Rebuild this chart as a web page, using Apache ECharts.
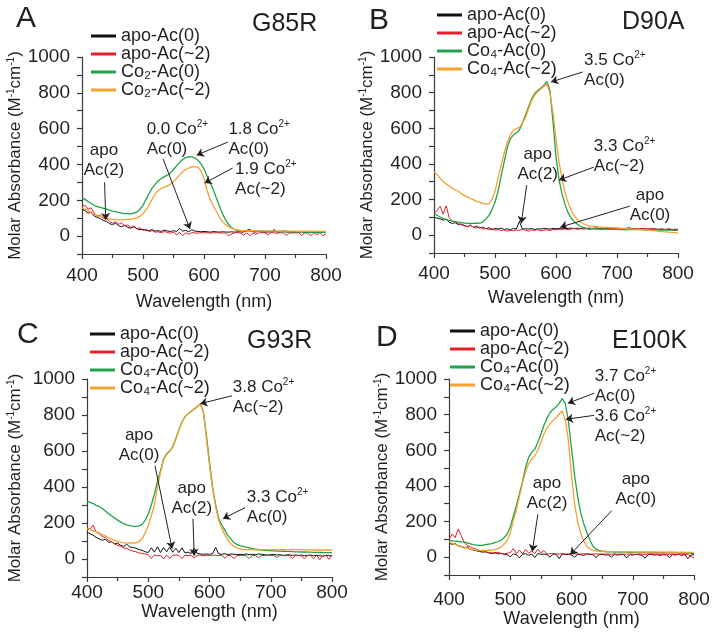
<!DOCTYPE html>
<html>
<head>
<meta charset="utf-8">
<title>Co2+ binding spectra</title>
<script src="https://cdn.jsdelivr.net/npm/echarts@6/dist/echarts.min.js"></script>
<style>
html, body { margin: 0; padding: 0; background: #fff; }
#chart { width: 713px; height: 636px; }
</style>
</head>
<body>
<div id="chart"></div>
<script>
// wavelength axis (nm), 5 nm steps
const wavelength = [
  400,405,410,415,420,425,430,435,440,445,
  450,455,460,465,470,475,480,485,490,495,
  500,505,510,515,520,525,530,535,540,545,
  550,555,560,565,570,575,580,585,590,595,
  600,605,610,615,620,625,630,635,640,645,
  650,655,660,665,670,675,680,685,690,695,
  700,705,710,715,720,725,730,735,740,745,
  750,755,760,765,770,775,780,785,790,795,
  800
];

// ---- panel A, G85R ----
const apo0_A = [
  150,142,128,135,112,104,98,86,82,70,
  64,72,58,52,60,48,44,52,40,36,
  38,32,30,36,28,30,26,34,28,26,
  30,26,42,28,32,24,36,28,26,24,
  26,24,22,25,24,22,24,23,22,24,
  22,24,23,22,32,38,25,22,28,24,
  22,23,24,36,22,23,30,22,24,22,
  23,22,24,21,22,23,22,21,22,20,
  21
];
const apo2_A = [
  165,172,150,158,128,110,118,96,100,82,
  72,80,66,74,58,62,48,56,42,46,
  32,38,26,30,22,24,18,26,20,16,
  22,8,20,2,18,10,20,18,16,20,
  18,19,17,18,19,18,17,18,2,12,
  18,20,16,6,18,2,17,10,18,20,
  18,8,20,18,16,19,18,5,17,18,
  18,19,4,17,18,2,18,8,20,2,
  12
];
const co0_A = [
  215,205,193,182,172,165,160,155,150,145,
  140,136,132,128,126,125,124,128,135,150,
  172,205,238,268,290,308,322,332,340,352,
  372,392,412,428,438,443,442,436,424,404,
  375,335,300,262,215,170,128,92,66,48,
  38,32,30,29,28,28,27,27,26,27,
  26,26,25,26,25,25,24,25,24,24,
  23,24,23,23,22,23,22,22,21,22,
  21
];
const co2_A = [
  158,150,140,130,122,115,110,104,100,96,
  93,92,91,91,92,93,94,97,102,110,
  125,145,175,205,235,255,266,273,280,290,
  303,322,342,360,372,380,386,387,385,365,
  320,255,205,172,140,108,82,64,52,44,
  38,34,32,31,30,30,30,29,30,29,
  29,29,30,29,28,29,28,29,28,28,
  28,27,28,27,27,28,27,26,27,26,
  26
];

// ---- panel B, D90A ----
const apo0_B = [
  100,96,92,84,90,72,66,70,58,62,
  54,48,56,44,50,40,46,36,42,30,
  38,34,40,32,36,30,38,34,78,34,
  36,34,38,32,36,34,38,36,34,38,
  36,38,40,36,38,40,37,39,38,40,
  38,40,36,42,38,36,40,37,42,38,
  40,36,38,35,42,36,38,34,37,35,
  34,36,33,35,30,34,32,30,33,31,
  30
];
const apo2_B = [
  120,140,162,118,165,98,80,72,66,58,
  52,48,56,44,40,46,34,38,30,36,
  28,32,26,30,22,28,24,30,26,34,
  28,22,30,26,32,24,28,30,26,32,
  30,34,32,36,30,34,38,32,36,34,
  36,32,38,34,36,32,38,36,40,34,
  36,38,32,40,36,34,38,36,32,38,
  36,32,40,30,36,34,32,38,30,34,
  32
];
const co0_B = [
  122,112,102,94,88,83,79,76,73,70,
  68,66,66,66,67,68,75,90,110,142,
  185,245,330,410,490,540,562,575,590,628,
  675,721,765,795,812,826,840,862,815,640,
  440,310,230,170,125,95,75,62,50,42,
  38,36,35,35,34,34,34,33,33,33,
  33,32,33,32,32,31,32,31,31,30,
  30,30,29,30,29,28,29,28,28,27,
  27
];
const co2_B = [
  356,340,320,300,288,276,264,255,245,233,
  222,214,206,198,190,184,178,176,175,200,
  245,320,390,460,520,560,590,598,605,630,
  660,710,755,785,805,820,835,848,800,690,
  540,410,315,235,180,140,108,88,74,64,
  56,52,50,48,46,45,44,43,42,41,
  40,39,38,37,36,34,33,32,31,30,
  29,27,26,24,22,20,19,17,16,14,
  12
];

// ---- panel C, G93R ----
const apo0_C = [
  150,140,132,120,112,104,110,92,96,84,
  88,76,70,82,66,64,60,52,48,40,
  36,62,38,68,36,64,40,66,38,60,
  36,62,34,38,30,60,32,28,26,28,
  26,30,64,28,26,30,24,28,26,24,
  26,24,28,24,26,24,28,26,24,22,
  24,26,22,24,20,22,24,20,22,20,
  22,18,20,22,18,20,18,16,20,18,
  18
];
const apo2_C = [
  172,165,188,150,140,126,118,104,96,84,
  76,70,62,58,50,44,40,34,30,28,
  24,2,22,18,20,0,22,4,20,22,
  20,2,22,18,20,6,20,22,18,20,
  20,21,20,19,20,4,20,18,2,20,
  19,20,18,2,20,19,6,20,18,20,
  19,20,8,20,19,18,20,2,19,20,
  18,0,20,19,2,20,-4,18,20,-2,
  20
];
const co0_C = [
  320,315,308,298,292,280,266,252,240,228,
  216,205,196,190,186,183,181,184,192,215,
  250,300,360,430,490,555,585,600,625,670,
  718,760,790,808,820,833,845,862,820,685,
  540,400,300,225,190,160,130,110,90,80,
  74,70,66,62,58,55,52,50,48,47,
  46,45,44,44,43,42,42,41,40,40,
  39,39,38,38,37,37,36,36,35,35,
  35
];
const co2_C = [
  168,162,156,150,144,136,128,118,110,104,
  98,94,90,88,88,89,90,96,112,145,
  185,240,300,400,480,550,580,598,620,665,
  715,758,790,808,822,835,848,862,815,670,
  520,390,290,215,170,135,107,85,70,62,
  56,53,52,52,52,51,51,51,52,52,
  52,53,52,52,53,52,52,53,52,52,
  52,51,52,51,50,51,50,50,51,50,
  50
];

// ---- panel D, E100K ----
const apo0_D = [
  80,72,76,64,60,52,58,44,40,36,
  32,28,30,24,20,26,18,22,16,14,
  2,18,14,-4,16,20,10,18,-2,20,
  16,18,14,0,18,16,-8,18,14,16,
  12,0,16,14,10,18,16,14,-2,14,
  16,12,14,0,16,12,14,16,-4,14,
  12,16,14,10,-6,14,16,12,14,10,
  14,12,-2,14,12,16,10,14,-8,12,
  14
];
const apo2_D = [
  100,130,110,158,120,82,66,58,50,44,
  38,34,30,26,24,22,28,20,18,22,
  26,48,20,40,18,44,22,36,20,46,
  24,38,18,20,18,19,18,20,18,19,
  18,19,18,18,19,18,17,18,18,17,
  18,17,18,16,18,17,18,16,17,18,
  17,16,18,17,16,17,18,16,17,16,
  17,16,15,17,16,15,17,16,15,4,
  -4
];
const co0_D = [
  95,92,90,88,86,84,80,75,70,68,
  66,67,70,73,76,82,88,95,110,130,
  170,230,290,355,425,505,560,588,605,645,
  690,740,780,812,830,843,865,890,862,760,
  610,460,340,250,188,140,95,62,45,38,
  34,32,30,30,29,29,28,28,28,27,
  27,27,26,27,26,26,25,26,25,25,
  25,24,25,24,24,23,24,23,23,22,
  22
];
const co2_D = [
  84,78,72,64,58,56,50,46,42,40,
  38,38,38,39,40,42,48,58,72,95,
  135,205,265,340,415,480,525,552,568,600,
  645,690,725,750,768,782,805,820,768,650,
  460,300,200,135,90,60,46,38,35,33,
  32,32,31,31,31,30,30,30,30,30,
  30,29,30,29,29,30,29,29,28,29,
  28,28,29,28,28,27,28,27,27,27,
  27
];

const FONT = "'Liberation Sans', Arial, Helvetica, sans-serif";
const TXT = '#231f20';
const COLORS = ['#111111', '#e3202a', '#1fa34a', '#f5a031'];

const panels = [
  {
    letter: 'A', mutant: 'G85R', co: '₂',
    grid: { left: 82, top: 57, width: 244, height: 197 }, nameGap: 58,
    labelMargin: 12, xNameGap: 39,
    legend: { left: 91, top: 27 },
    letterPos: { left: 16, top: 4 }, mutantPos: { left: 252, top: 12 },
    series: [apo0_A, apo2_A, co0_A, co2_A],
    notes: [
      { x: 436, y: 425, align: 'center', text: '{t|apo}\n{t|Ac(2)}' },
      { x: 506, y: 542, align: 'left', text: '{t|0.0 Co}{s|2+}\n{t|Ac(0)}' },
      { x: 640, y: 542, align: 'left', text: '{t|1.8 Co}{s|2+}\n{t|Ac(0)}' },
      { x: 651, y: 316, align: 'left', text: '{t|1.9 Co}{s|2+}\n{t|Ac(~2)}' }
    ],
    arrows: [[437, 300, 439, 90], [533, 430, 577, 39], [639, 525, 588, 452], [647, 380, 601, 296]]
  },
  {
    letter: 'B', mutant: 'D90A', co: '₄',
    grid: { left: 434, top: 57, width: 244, height: 196 }, nameGap: 56,
    labelMargin: 11, xNameGap: 36,
    legend: { left: 437, top: 6 },
    letterPos: { left: 369, top: 6 }, mutantPos: { left: 622, top: 10 },
    series: [apo0_B, apo2_B, co0_B, co2_B],
    notes: [
      { x: 646, y: 927, align: 'left', text: '{t|3.5 Co}{s|2+}\n{t|Ac(0)}' },
      { x: 662, y: 441, align: 'left', text: '{t|3.3 Co}{s|2+}\n{t|Ac(~2)}' },
      { x: 570, y: 399, align: 'center', text: '{t|apo}\n{t|Ac(2)}' },
      { x: 754, y: 169, align: 'center', text: '{t|apo}\n{t|Ac(0)}' }
    ],
    arrows: [[644, 916, 592, 860], [662, 382, 605, 309], [552, 281, 543, 67], [721, 163, 607, 45]]
  },
  {
    letter: 'C', mutant: 'G93R', co: '₄',
    grid: { left: 87, top: 379, width: 245, height: 198 }, nameGap: 63,
    labelMargin: 6, xNameGap: 26,
    legend: { left: 90, top: 325 },
    letterPos: { left: 17, top: 320 }, mutantPos: { left: 247, top: 329 },
    series: [apo0_C, apo2_C, co0_C, co2_C],
    notes: [
      { x: 638, y: 899, align: 'left', text: '{t|3.8 Co}{s|2+}\n{t|Ac(~2)}' },
      { x: 485, y: 629, align: 'center', text: '{t|apo}\n{t|Ac(0)}' },
      { x: 571, y: 338, align: 'center', text: '{t|apo}\n{t|Ac(2)}' },
      { x: 661, y: 288, align: 'left', text: '{t|3.3 Co}{s|2+}\n{t|Ac(0)}' }
    ],
    arrows: [[637, 907, 585, 863], [511, 518, 539, 57], [573, 224, 575, 18], [658, 285, 622, 224]]
  },
  {
    letter: 'D', mutant: 'E100K', co: '₄',
    grid: { left: 449, top: 379, width: 245, height: 196 }, nameGap: 56,
    labelMargin: 15, xNameGap: 34,
    legend: { left: 450, top: 322 },
    letterPos: { left: 376, top: 323 }, mutantPos: { left: 612, top: 329 },
    series: [apo0_D, apo2_D, co0_D, co2_D],
    notes: [
      { x: 638, y: 959, align: 'left', text: '{t|3.7 Co}{s|2+}\n{t|Ac(0)}' },
      { x: 638, y: 734, align: 'left', text: '{t|3.6 Co}{s|2+}\n{t|Ac(~2)}' },
      { x: 560, y: 358, align: 'center', text: '{t|apo}\n{t|Ac(2)}' },
      { x: 705, y: 383, align: 'center', text: '{t|apo}\n{t|Ac(0)}' }
    ],
    arrows: [[637, 920, 594, 864], [637, 796, 591, 774], [545, 240, 536, 32], [666, 262, 598, 15]]
  }
];

const seriesNames = co => ['apo-Ac(0)', 'apo-Ac(~2)', 'Co' + co + '-Ac(0)', 'Co' + co + '-Ac(~2)'];
const toPairs = vals => vals.map((v, i) => [wavelength[i], v]);

const noteRich = {
  t: { fontSize: 17, lineHeight: 20, fontFamily: FONT, color: TXT },
  s: { fontSize: 10, lineHeight: 9, verticalAlign: 'top', fontFamily: FONT, color: TXT }
};

const chart = echarts.init(document.getElementById('chart'));

const option = {
  animation: false,
  backgroundColor: '#fff',
  title: [].concat(...panels.map(p => [
    { text: p.letter, left: p.letterPos.left, top: p.letterPos.top, padding: 0,
      textStyle: { fontSize: 30, fontWeight: 'normal', color: TXT, fontFamily: FONT } },
    { text: p.mutant, left: p.mutantPos.left, top: p.mutantPos.top, padding: 0,
      textStyle: { fontSize: 25, fontWeight: 'normal', color: TXT, fontFamily: FONT } }
  ])),
  grid: panels.map(p => Object.assign({ containLabel: false, outerBoundsMode: 'none' }, p.grid)),
  legend: panels.map(p => ({
    data: seriesNames(p.co),
    orient: 'vertical',
    left: p.legend.left, top: p.legend.top,
    padding: 0, itemGap: 0,
    icon: 'rect', itemWidth: 25, itemHeight: 3,
    selectedMode: false,
    textStyle: { fontSize: 18, lineHeight: 17, color: TXT, fontFamily: FONT }
  })),
  xAxis: panels.map((p, i) => ({
    gridIndex: i, type: 'value', min: 400, max: 800, interval: 100,
    axisLine: { onZero: false, lineStyle: { color: '#3a3a3a', width: 1.2 } },
    axisTick: { length: 5, lineStyle: { color: '#3a3a3a', width: 1.2 } },
    minorTick: { show: true, splitNumber: 2, length: 4, lineStyle: { color: '#3a3a3a', width: 1.2 } },
    axisLabel: { fontSize: 19, color: TXT, margin: p.labelMargin, fontFamily: FONT },
    splitLine: { show: false },
    name: 'Wavelength (nm)', nameLocation: 'middle', nameGap: p.xNameGap,
    nameTextStyle: { fontSize: 18, color: TXT, fontFamily: FONT }
  })),
  yAxis: panels.map((p, i) => ({
    gridIndex: i, type: 'value', min: -100, max: 1000, interval: 100,
    axisLine: { show: true, onZero: false, lineStyle: { color: '#3a3a3a', width: 1.2 } },
    axisTick: { show: true, length: 5, lineStyle: { color: '#3a3a3a', width: 1.2 } },
    axisLabel: {
      fontSize: 19, color: TXT, margin: 12, fontFamily: FONT,
      formatter: v => (v >= 0 && v % 200 === 0) ? String(v) : ''
    },
    splitLine: { show: false },
    name: '{t|Molar Absorbance (M}{s|-1}{t|cm}{s|-1}{t|)}',
    nameLocation: 'middle', nameGap: p.nameGap,
    nameTextStyle: {
      fontSize: 17, color: TXT, fontFamily: FONT,
      rich: {
        t: { fontSize: 17, lineHeight: 18, color: TXT, fontFamily: FONT },
        s: { fontSize: 10, lineHeight: 8, verticalAlign: 'top', color: TXT, fontFamily: FONT }
      }
    }
  })),
  series: [].concat(...panels.map((p, i) => {
    const names = seriesNames(p.co);
    return p.series.map((vals, k) => {
      const s = {
        name: names[k], type: 'line',
        xAxisIndex: i, yAxisIndex: i,
        data: toPairs(vals),
        showSymbol: false, symbol: 'none',
        color: COLORS[k],
        lineStyle: { color: COLORS[k], width: k < 2 ? 1 : 1.3 },
        silent: true
      };
      if (k === 3) {
        s.markPoint = {
          silent: true, symbol: 'circle', symbolSize: 0,
          label: { show: true, position: 'inside', color: TXT, fontFamily: FONT, rich: noteRich },
          data: p.notes.map(n => ({
            coord: [n.x, n.y],
            label: { formatter: n.text, align: n.align, verticalAlign: 'middle' }
          }))
        };
        s.markLine = {
          silent: true, symbol: ['none', 'arrow'], symbolSize: 7,
          label: { show: false },
          lineStyle: { color: TXT, width: 1, type: 'solid' },
          itemStyle: { color: TXT },
          emphasis: { disabled: true },
          data: p.arrows.map(a => [{ coord: [a[0], a[1]] }, { coord: [a[2], a[3]] }])
        };
      }
      return s;
    });
  }))
};

chart.setOption(option);
</script>
</body>
</html>
